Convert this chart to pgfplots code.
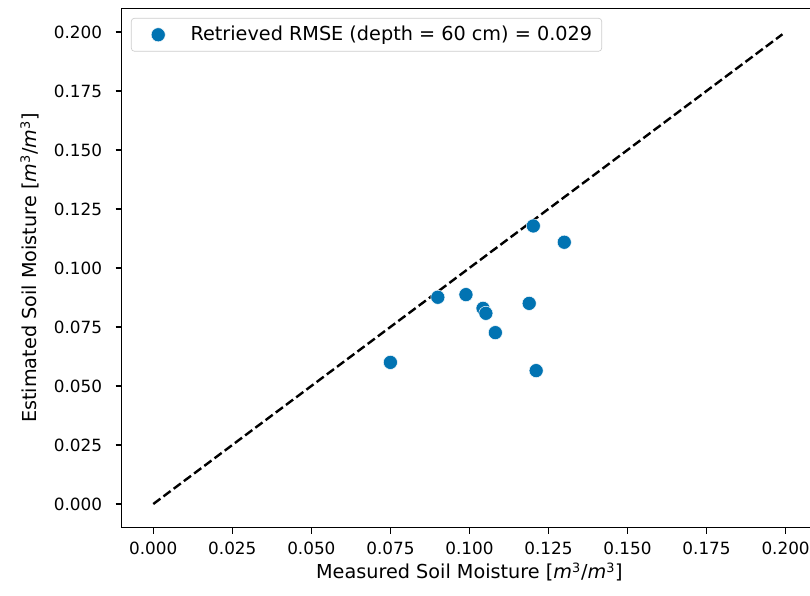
\documentclass[border=0pt]{standalone}
\usepackage{fontspec}
\setmainfont{DejaVu Sans}
\usepackage{pgfplots}
\pgfplotsset{compat=1.18}
\definecolor{c0}{HTML}{0173B2}
\begin{document}
\begin{tikzpicture}
\useasboundingbox (-75.9pt,-42.1pt) rectangle (429.5pt,329.2pt);
\clip (-75.9pt,-42.1pt) rectangle (429.5pt,329.2pt);
\begin{axis}[
  at={(0,0)}, anchor=south west,
  scale only axis, width=434pt, height=324pt,
  xmin=-0.01, xmax=0.21, ymin=-0.01, ymax=0.21,
  xtick={0,0.025,...,0.2001}, ytick={0,0.025,...,0.2001},
  tick pos=left, tick align=outside,
  major tick length=3.7pt,
  every tick/.style={black, line width=0.8pt},
  axis line style={line width=0.8pt},
  /pgf/number format/.cd, fixed, fixed zerofill, precision=3, assume math mode=true, /pgfplots/.cd,
  xticklabel style={font=\fontsize{10.5}{12}\selectfont, yshift=-2pt},
  yticklabel style={font=\fontsize{10.5}{12}\selectfont, xshift=-5pt},
  xlabel={Measured Soil Moisture [\textit{m}\textsuperscript{3}/\textit{m}\textsuperscript{3}]},
  ylabel={Estimated Soil Moisture [\textit{m}\textsuperscript{3}/\textit{m}\textsuperscript{3}]},
  every axis x label/.style={at={(axis description cs:0.5,-0.0855)}, anchor=center},
  every axis y label/.style={at={(axis description cs:-0.1318,0.5)}, anchor=center, rotate=90},
  label style={font=\fontsize{12}{14}\selectfont},
  legend style={at={(0.0134,0.9815)}, anchor=north west, draw=black!20, rounded corners=2pt,
    font=\fontsize{12}{14}\selectfont, inner xsep=4pt, inner ysep=3pt},
  legend cell align=left,
  legend image code/.code={\path[draw=none] (0pt,0pt) -- (31pt,0pt); \draw[#1, draw=none] plot coordinates {(12.8pt,0pt)};},
]
\addplot[only marks, mark=*, mark size=4.4pt, color=c0, mark options={draw=white, line width=0.3pt, fill=c0}] coordinates {
(0.075,0.060) (0.090,0.0876) (0.0989,0.0887) (0.1043,0.0829) (0.1052,0.0808)
(0.1082,0.0726) (0.1189,0.0850) (0.1202,0.1178) (0.1211,0.0565) (0.1300,0.1109)
};
\addlegendentry{Retrieved RMSE (depth = 60 cm) = 0.029}
\addplot[black, line width=1.5pt, dash pattern=on 5.55pt off 2.4pt, forget plot] coordinates {(0,0) (0.199,0.199)};
\end{axis}
\end{tikzpicture}
\end{document}
